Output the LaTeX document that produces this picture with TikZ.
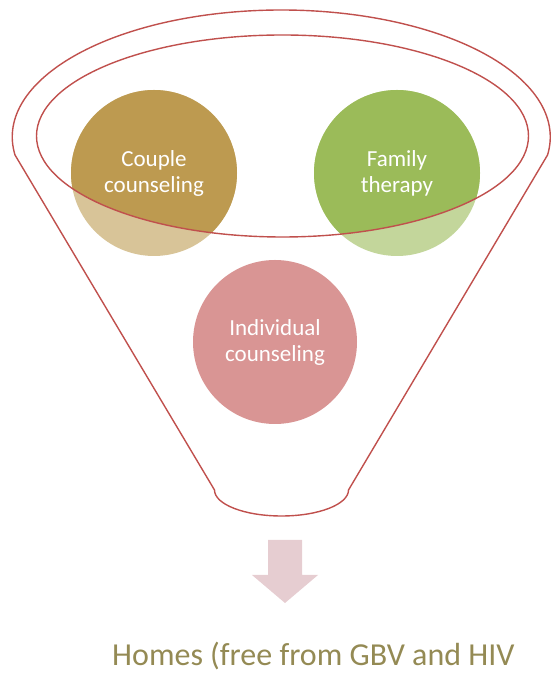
\documentclass[tikz,border=0pt]{standalone}
\usepackage{fontspec}
\setmainfont{Carlito}
\usepackage{tikz}
\usetikzlibrary{positioning,calc}

\definecolor{funnelred}{RGB}{192,80,77}
\definecolor{coupledark}{RGB}{189,154,80}
\definecolor{couplelight}{RGB}{216,196,152}
\definecolor{familydark}{RGB}{155,187,89}
\definecolor{familylight}{RGB}{195,214,155}
\definecolor{indivpink}{RGB}{217,149,148}
\definecolor{arrowpink}{RGB}{230,205,209}
\definecolor{homesolive}{RGB}{148,138,84}

\begin{document}
\begin{tikzpicture}[
    x=1pt, y=1pt,
    rim/.style={draw=funnelred, line width=1.4pt},
    bubble/.style={circle, minimum size=166pt, inner sep=0pt, align=center,
      text=white, font=\fontsize{23}{26}\selectfont},
    inrim/.style={path picture={\fill[#1] (rimc) ellipse [x radius=246pt, y radius=101pt];}}
  ]
    \useasboundingbox (0,0) rectangle (551,674);

    % Funnel outline
    \draw[rim] (15,519) arc[start angle=188.15, end angle=-8.15, x radius=269, y radius=127]
      -- (348.5,184) arc[start angle=0, end angle=-180, x radius=67, y radius=26] -- cycle;

    % Centre of the inner rim
    \coordinate (rimc) at (282.5,538);

    % Circles
    \node[bubble, fill=couplelight, inrim=coupledark] (couple) at (154,501) {Couple\\counseling};
    \node[bubble, fill=familylight, inrim=familydark] (family) at (397,501) {Family\\therapy};
    \node[bubble, fill=indivpink, minimum size=164pt] (indiv) at (275,332) {Individual\\counseling};

    % Inner rim on top
    \draw[rim] (rimc) ellipse [x radius=246, y radius=101];

    % Down arrow
    \fill[arrowpink] (268,134) -- (302,134) -- (302,99) -- (318,99) -- (285,71)
      -- (252,99) -- (268,99) -- cycle;

    % Result text
    \node[anchor=base west, inner sep=0pt, text=homesolive, font=\fontsize{32}{36}\selectfont]
      (homes) at (112,9) {Homes (free from GBV and HIV};
  \end{tikzpicture}
\end{document}
